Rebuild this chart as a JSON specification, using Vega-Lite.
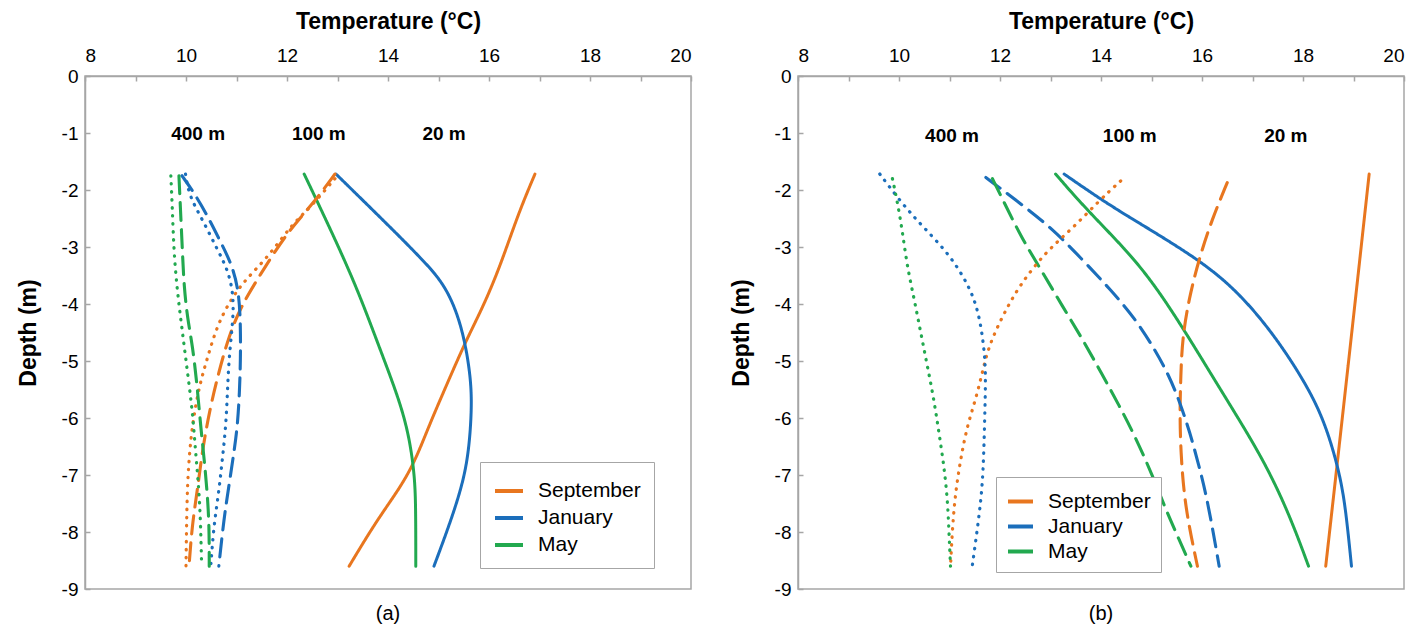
{
  "$schema": "https://vega.github.io/schema/vega-lite/v6.json",
  "padding": {"left": 16, "top": 9, "right": 5, "bottom": 5},
  "spacing": 36,
  "config": {
    "font": "Liberation Sans",
    "view": {"stroke": "#A6A6A6", "strokeWidth": 1.5},
    "axis": {"domainColor": "#A6A6A6", "tickColor": "#A6A6A6", "grid": false, "labelFont": "Liberation Sans", "labelFontSize": 19, "labelColor": "#000000", "titleFont": "Liberation Sans", "titleFontSize": 23, "titleFontWeight": "bold", "titleColor": "#000000", "domainWidth": 1.5, "tickWidth": 1.5},
    "title": {"font": "Liberation Sans", "fontSize": 20, "fontWeight": "normal", "color": "#000000"}
  },
  "datasets": {
    "profiles": [
      {"panel":"a","month":"September","dist":"20 m","temp":16.91,"depth":-1.72},
      {"panel":"a","month":"September","dist":"20 m","temp":16.59,"depth":-2.39},
      {"panel":"a","month":"September","dist":"20 m","temp":16.20,"depth":-3.39},
      {"panel":"a","month":"September","dist":"20 m","temp":15.86,"depth":-4.09},
      {"panel":"a","month":"September","dist":"20 m","temp":15.54,"depth":-4.65},
      {"panel":"a","month":"September","dist":"20 m","temp":15.15,"depth":-5.44},
      {"panel":"a","month":"September","dist":"20 m","temp":14.81,"depth":-6.14},
      {"panel":"a","month":"September","dist":"20 m","temp":14.53,"depth":-6.77},
      {"panel":"a","month":"September","dist":"20 m","temp":14.22,"depth":-7.25},
      {"panel":"a","month":"September","dist":"20 m","temp":13.76,"depth":-7.82},
      {"panel":"a","month":"September","dist":"20 m","temp":13.23,"depth":-8.60},
      {"panel":"a","month":"January","dist":"20 m","temp":12.97,"depth":-1.72},
      {"panel":"a","month":"January","dist":"20 m","temp":14.02,"depth":-2.63},
      {"panel":"a","month":"January","dist":"20 m","temp":14.67,"depth":-3.21},
      {"panel":"a","month":"January","dist":"20 m","temp":15.15,"depth":-3.68},
      {"panel":"a","month":"January","dist":"20 m","temp":15.47,"depth":-4.39},
      {"panel":"a","month":"January","dist":"20 m","temp":15.64,"depth":-5.26},
      {"panel":"a","month":"January","dist":"20 m","temp":15.66,"depth":-5.84},
      {"panel":"a","month":"January","dist":"20 m","temp":15.60,"depth":-6.60},
      {"panel":"a","month":"January","dist":"20 m","temp":15.47,"depth":-7.19},
      {"panel":"a","month":"January","dist":"20 m","temp":15.21,"depth":-7.89},
      {"panel":"a","month":"January","dist":"20 m","temp":14.91,"depth":-8.60},
      {"panel":"a","month":"May","dist":"20 m","temp":12.34,"depth":-1.72},
      {"panel":"a","month":"May","dist":"20 m","temp":12.83,"depth":-2.63},
      {"panel":"a","month":"May","dist":"20 m","temp":13.37,"depth":-3.68},
      {"panel":"a","month":"May","dist":"20 m","temp":13.82,"depth":-4.74},
      {"panel":"a","month":"May","dist":"20 m","temp":14.22,"depth":-5.67},
      {"panel":"a","month":"May","dist":"20 m","temp":14.42,"depth":-6.32},
      {"panel":"a","month":"May","dist":"20 m","temp":14.53,"depth":-7.02},
      {"panel":"a","month":"May","dist":"20 m","temp":14.55,"depth":-7.60},
      {"panel":"a","month":"May","dist":"20 m","temp":14.55,"depth":-8.60},
      {"panel":"a","month":"September","dist":"100 m","temp":12.95,"depth":-1.72},
      {"panel":"a","month":"September","dist":"100 m","temp":12.48,"depth":-2.28},
      {"panel":"a","month":"September","dist":"100 m","temp":12.02,"depth":-2.72},
      {"panel":"a","month":"September","dist":"100 m","temp":11.45,"depth":-3.51},
      {"panel":"a","month":"September","dist":"100 m","temp":11.09,"depth":-4.04},
      {"panel":"a","month":"September","dist":"100 m","temp":10.85,"depth":-4.56},
      {"panel":"a","month":"September","dist":"100 m","temp":10.65,"depth":-5.19},
      {"panel":"a","month":"September","dist":"100 m","temp":10.46,"depth":-5.89},
      {"panel":"a","month":"September","dist":"100 m","temp":10.32,"depth":-6.60},
      {"panel":"a","month":"September","dist":"100 m","temp":10.22,"depth":-7.30},
      {"panel":"a","month":"September","dist":"100 m","temp":10.12,"depth":-7.89},
      {"panel":"a","month":"September","dist":"100 m","temp":10.06,"depth":-8.60},
      {"panel":"a","month":"September","dist":"400 m","temp":12.95,"depth":-1.80},
      {"panel":"a","month":"September","dist":"400 m","temp":12.47,"depth":-2.30},
      {"panel":"a","month":"September","dist":"400 m","temp":12.10,"depth":-2.60},
      {"panel":"a","month":"September","dist":"400 m","temp":11.64,"depth":-3.16},
      {"panel":"a","month":"September","dist":"400 m","temp":11.19,"depth":-3.56},
      {"panel":"a","month":"September","dist":"400 m","temp":10.89,"depth":-3.91},
      {"panel":"a","month":"September","dist":"400 m","temp":10.61,"depth":-4.39},
      {"panel":"a","month":"September","dist":"400 m","temp":10.42,"depth":-4.96},
      {"panel":"a","month":"September","dist":"400 m","temp":10.26,"depth":-5.44},
      {"panel":"a","month":"September","dist":"400 m","temp":10.12,"depth":-6.14},
      {"panel":"a","month":"September","dist":"400 m","temp":10.06,"depth":-6.72},
      {"panel":"a","month":"September","dist":"400 m","temp":10.02,"depth":-7.30},
      {"panel":"a","month":"September","dist":"400 m","temp":10.00,"depth":-8.60},
      {"panel":"a","month":"January","dist":"100 m","temp":9.92,"depth":-1.75},
      {"panel":"a","month":"January","dist":"100 m","temp":10.13,"depth":-2.01},
      {"panel":"a","month":"January","dist":"100 m","temp":10.39,"depth":-2.39},
      {"panel":"a","month":"January","dist":"100 m","temp":10.69,"depth":-2.92},
      {"panel":"a","month":"January","dist":"100 m","temp":10.92,"depth":-3.33},
      {"panel":"a","month":"January","dist":"100 m","temp":11.05,"depth":-3.80},
      {"panel":"a","month":"January","dist":"100 m","temp":11.08,"depth":-4.38},
      {"panel":"a","month":"January","dist":"100 m","temp":11.08,"depth":-4.96},
      {"panel":"a","month":"January","dist":"100 m","temp":11.06,"depth":-5.55},
      {"panel":"a","month":"January","dist":"100 m","temp":11.02,"depth":-6.14},
      {"panel":"a","month":"January","dist":"100 m","temp":10.95,"depth":-6.60},
      {"panel":"a","month":"January","dist":"100 m","temp":10.85,"depth":-7.19},
      {"panel":"a","month":"January","dist":"100 m","temp":10.75,"depth":-7.77},
      {"panel":"a","month":"January","dist":"100 m","temp":10.65,"depth":-8.60},
      {"panel":"a","month":"January","dist":"400 m","temp":9.99,"depth":-1.72},
      {"panel":"a","month":"January","dist":"400 m","temp":10.06,"depth":-2.10},
      {"panel":"a","month":"January","dist":"400 m","temp":10.32,"depth":-2.51},
      {"panel":"a","month":"January","dist":"400 m","temp":10.62,"depth":-3.04},
      {"panel":"a","month":"January","dist":"400 m","temp":10.85,"depth":-3.44},
      {"panel":"a","month":"January","dist":"400 m","temp":10.95,"depth":-3.91},
      {"panel":"a","month":"January","dist":"400 m","temp":10.92,"depth":-4.38},
      {"panel":"a","month":"January","dist":"400 m","temp":10.85,"depth":-4.96},
      {"panel":"a","month":"January","dist":"400 m","temp":10.82,"depth":-5.55},
      {"panel":"a","month":"January","dist":"400 m","temp":10.79,"depth":-6.14},
      {"panel":"a","month":"January","dist":"400 m","temp":10.72,"depth":-6.72},
      {"panel":"a","month":"January","dist":"400 m","temp":10.65,"depth":-7.30},
      {"panel":"a","month":"January","dist":"400 m","temp":10.55,"depth":-7.89},
      {"panel":"a","month":"January","dist":"400 m","temp":10.49,"depth":-8.60},
      {"panel":"a","month":"May","dist":"100 m","temp":9.86,"depth":-1.75},
      {"panel":"a","month":"May","dist":"100 m","temp":9.89,"depth":-2.33},
      {"panel":"a","month":"May","dist":"100 m","temp":9.93,"depth":-3.09},
      {"panel":"a","month":"May","dist":"100 m","temp":9.96,"depth":-3.68},
      {"panel":"a","month":"May","dist":"100 m","temp":10.03,"depth":-4.26},
      {"panel":"a","month":"May","dist":"100 m","temp":10.13,"depth":-4.73},
      {"panel":"a","month":"May","dist":"100 m","temp":10.22,"depth":-5.43},
      {"panel":"a","month":"May","dist":"100 m","temp":10.29,"depth":-6.14},
      {"panel":"a","month":"May","dist":"100 m","temp":10.36,"depth":-6.72},
      {"panel":"a","month":"May","dist":"100 m","temp":10.42,"depth":-7.30},
      {"panel":"a","month":"May","dist":"100 m","temp":10.46,"depth":-7.89},
      {"panel":"a","month":"May","dist":"100 m","temp":10.46,"depth":-8.60},
      {"panel":"a","month":"May","dist":"400 m","temp":9.70,"depth":-1.75},
      {"panel":"a","month":"May","dist":"400 m","temp":9.73,"depth":-2.33},
      {"panel":"a","month":"May","dist":"400 m","temp":9.76,"depth":-3.09},
      {"panel":"a","month":"May","dist":"400 m","temp":9.83,"depth":-3.80},
      {"panel":"a","month":"May","dist":"400 m","temp":9.93,"depth":-4.50},
      {"panel":"a","month":"May","dist":"400 m","temp":10.03,"depth":-5.20},
      {"panel":"a","month":"May","dist":"400 m","temp":10.13,"depth":-5.90},
      {"panel":"a","month":"May","dist":"400 m","temp":10.19,"depth":-6.60},
      {"panel":"a","month":"May","dist":"400 m","temp":10.26,"depth":-7.30},
      {"panel":"a","month":"May","dist":"400 m","temp":10.29,"depth":-7.89},
      {"panel":"a","month":"May","dist":"400 m","temp":10.31,"depth":-8.60},

      {"panel":"b","month":"September","dist":"20 m","temp":19.31,"depth":-1.72},
      {"panel":"b","month":"September","dist":"20 m","temp":18.88,"depth":-5.20},
      {"panel":"b","month":"September","dist":"20 m","temp":18.45,"depth":-8.60},
      {"panel":"b","month":"January","dist":"20 m","temp":13.27,"depth":-1.72},
      {"panel":"b","month":"January","dist":"20 m","temp":13.89,"depth":-2.10},
      {"panel":"b","month":"January","dist":"20 m","temp":14.45,"depth":-2.42},
      {"panel":"b","month":"January","dist":"20 m","temp":15.94,"depth":-3.21},
      {"panel":"b","month":"January","dist":"20 m","temp":16.73,"depth":-3.80},
      {"panel":"b","month":"January","dist":"20 m","temp":17.39,"depth":-4.50},
      {"panel":"b","month":"January","dist":"20 m","temp":17.92,"depth":-5.20},
      {"panel":"b","month":"January","dist":"20 m","temp":18.32,"depth":-5.84},
      {"panel":"b","month":"January","dist":"20 m","temp":18.58,"depth":-6.49},
      {"panel":"b","month":"January","dist":"20 m","temp":18.78,"depth":-7.19},
      {"panel":"b","month":"January","dist":"20 m","temp":18.88,"depth":-7.89},
      {"panel":"b","month":"January","dist":"20 m","temp":18.96,"depth":-8.60},
      {"panel":"b","month":"May","dist":"20 m","temp":13.10,"depth":-1.72},
      {"panel":"b","month":"May","dist":"20 m","temp":13.70,"depth":-2.33},
      {"panel":"b","month":"May","dist":"20 m","temp":14.49,"depth":-3.04},
      {"panel":"b","month":"May","dist":"20 m","temp":15.08,"depth":-3.68},
      {"panel":"b","month":"May","dist":"20 m","temp":15.72,"depth":-4.56},
      {"panel":"b","month":"May","dist":"20 m","temp":16.20,"depth":-5.26},
      {"panel":"b","month":"May","dist":"20 m","temp":16.73,"depth":-6.02},
      {"panel":"b","month":"May","dist":"20 m","temp":17.20,"depth":-6.72},
      {"panel":"b","month":"May","dist":"20 m","temp":17.59,"depth":-7.42},
      {"panel":"b","month":"May","dist":"20 m","temp":17.89,"depth":-8.07},
      {"panel":"b","month":"May","dist":"20 m","temp":18.11,"depth":-8.60},
      {"panel":"b","month":"September","dist":"100 m","temp":16.50,"depth":-1.87},
      {"panel":"b","month":"September","dist":"100 m","temp":16.20,"depth":-2.51},
      {"panel":"b","month":"September","dist":"100 m","temp":15.94,"depth":-3.21},
      {"panel":"b","month":"September","dist":"100 m","temp":15.74,"depth":-3.91},
      {"panel":"b","month":"September","dist":"100 m","temp":15.61,"depth":-4.61},
      {"panel":"b","month":"September","dist":"100 m","temp":15.58,"depth":-5.26},
      {"panel":"b","month":"September","dist":"100 m","temp":15.56,"depth":-5.90},
      {"panel":"b","month":"September","dist":"100 m","temp":15.58,"depth":-6.60},
      {"panel":"b","month":"September","dist":"100 m","temp":15.64,"depth":-7.30},
      {"panel":"b","month":"September","dist":"100 m","temp":15.74,"depth":-7.89},
      {"panel":"b","month":"September","dist":"100 m","temp":15.91,"depth":-8.60},
      {"panel":"b","month":"January","dist":"100 m","temp":11.72,"depth":-1.78},
      {"panel":"b","month":"January","dist":"100 m","temp":12.38,"depth":-2.22},
      {"panel":"b","month":"January","dist":"100 m","temp":13.04,"depth":-2.68},
      {"panel":"b","month":"January","dist":"100 m","temp":13.62,"depth":-3.21},
      {"panel":"b","month":"January","dist":"100 m","temp":14.18,"depth":-3.74},
      {"panel":"b","month":"January","dist":"100 m","temp":14.68,"depth":-4.26},
      {"panel":"b","month":"January","dist":"100 m","temp":15.06,"depth":-4.79},
      {"panel":"b","month":"January","dist":"100 m","temp":15.35,"depth":-5.26},
      {"panel":"b","month":"January","dist":"100 m","temp":15.56,"depth":-5.72},
      {"panel":"b","month":"January","dist":"100 m","temp":15.76,"depth":-6.25},
      {"panel":"b","month":"January","dist":"100 m","temp":15.94,"depth":-6.84},
      {"panel":"b","month":"January","dist":"100 m","temp":16.07,"depth":-7.30},
      {"panel":"b","month":"January","dist":"100 m","temp":16.20,"depth":-7.89},
      {"panel":"b","month":"January","dist":"100 m","temp":16.34,"depth":-8.60},
      {"panel":"b","month":"May","dist":"100 m","temp":11.85,"depth":-1.80},
      {"panel":"b","month":"May","dist":"100 m","temp":12.11,"depth":-2.27},
      {"panel":"b","month":"May","dist":"100 m","temp":12.44,"depth":-2.86},
      {"panel":"b","month":"May","dist":"100 m","temp":12.84,"depth":-3.44},
      {"panel":"b","month":"May","dist":"100 m","temp":13.23,"depth":-4.03},
      {"panel":"b","month":"May","dist":"100 m","temp":13.63,"depth":-4.61},
      {"panel":"b","month":"May","dist":"100 m","temp":14.00,"depth":-5.20},
      {"panel":"b","month":"May","dist":"100 m","temp":14.36,"depth":-5.78},
      {"panel":"b","month":"May","dist":"100 m","temp":14.69,"depth":-6.35},
      {"panel":"b","month":"May","dist":"100 m","temp":15.02,"depth":-7.01},
      {"panel":"b","month":"May","dist":"100 m","temp":15.28,"depth":-7.60},
      {"panel":"b","month":"May","dist":"100 m","temp":15.54,"depth":-8.12},
      {"panel":"b","month":"May","dist":"100 m","temp":15.78,"depth":-8.60},
      {"panel":"b","month":"September","dist":"400 m","temp":14.39,"depth":-1.84},
      {"panel":"b","month":"September","dist":"400 m","temp":13.96,"depth":-2.19},
      {"panel":"b","month":"September","dist":"400 m","temp":13.43,"depth":-2.68},
      {"panel":"b","month":"September","dist":"400 m","temp":12.90,"depth":-3.09},
      {"panel":"b","month":"September","dist":"400 m","temp":12.38,"depth":-3.68},
      {"panel":"b","month":"September","dist":"400 m","temp":12.05,"depth":-4.21},
      {"panel":"b","month":"September","dist":"400 m","temp":11.78,"depth":-4.73},
      {"panel":"b","month":"September","dist":"400 m","temp":11.65,"depth":-5.20},
      {"panel":"b","month":"September","dist":"400 m","temp":11.52,"depth":-5.67},
      {"panel":"b","month":"September","dist":"400 m","temp":11.35,"depth":-6.14},
      {"panel":"b","month":"September","dist":"400 m","temp":11.22,"depth":-6.72},
      {"panel":"b","month":"September","dist":"400 m","temp":11.12,"depth":-7.30},
      {"panel":"b","month":"September","dist":"400 m","temp":11.06,"depth":-7.89},
      {"panel":"b","month":"September","dist":"400 m","temp":11.02,"depth":-8.60},
      {"panel":"b","month":"January","dist":"400 m","temp":9.62,"depth":-1.72},
      {"panel":"b","month":"January","dist":"400 m","temp":10.07,"depth":-2.25},
      {"panel":"b","month":"January","dist":"400 m","temp":10.46,"depth":-2.63},
      {"panel":"b","month":"January","dist":"400 m","temp":10.99,"depth":-3.12},
      {"panel":"b","month":"January","dist":"400 m","temp":11.39,"depth":-3.68},
      {"panel":"b","month":"January","dist":"400 m","temp":11.58,"depth":-4.15},
      {"panel":"b","month":"January","dist":"400 m","temp":11.68,"depth":-4.73},
      {"panel":"b","month":"January","dist":"400 m","temp":11.72,"depth":-5.20},
      {"panel":"b","month":"January","dist":"400 m","temp":11.70,"depth":-5.90},
      {"panel":"b","month":"January","dist":"400 m","temp":11.68,"depth":-6.60},
      {"panel":"b","month":"January","dist":"400 m","temp":11.65,"depth":-7.19},
      {"panel":"b","month":"January","dist":"400 m","temp":11.58,"depth":-7.77},
      {"panel":"b","month":"January","dist":"400 m","temp":11.45,"depth":-8.60},
      {"panel":"b","month":"May","dist":"400 m","temp":9.87,"depth":-1.80},
      {"panel":"b","month":"May","dist":"400 m","temp":9.97,"depth":-2.22},
      {"panel":"b","month":"May","dist":"400 m","temp":10.07,"depth":-2.74},
      {"panel":"b","month":"May","dist":"400 m","temp":10.16,"depth":-3.33},
      {"panel":"b","month":"May","dist":"400 m","temp":10.30,"depth":-3.91},
      {"panel":"b","month":"May","dist":"400 m","temp":10.43,"depth":-4.50},
      {"panel":"b","month":"May","dist":"400 m","temp":10.56,"depth":-5.08},
      {"panel":"b","month":"May","dist":"400 m","temp":10.69,"depth":-5.67},
      {"panel":"b","month":"May","dist":"400 m","temp":10.79,"depth":-6.25},
      {"panel":"b","month":"May","dist":"400 m","temp":10.89,"depth":-6.84},
      {"panel":"b","month":"May","dist":"400 m","temp":10.96,"depth":-7.42},
      {"panel":"b","month":"May","dist":"400 m","temp":10.99,"depth":-8.01},
      {"panel":"b","month":"May","dist":"400 m","temp":11.02,"depth":-8.60}
    ],
    "labels": [
      {"panel":"a","text":"400 m","temp":10.24,"depth":-1.02},
      {"panel":"a","text":"100 m","temp":12.63,"depth":-1.02},
      {"panel":"a","text":"20 m","temp":15.11,"depth":-1.02},
      {"panel":"b","text":"400 m","temp":11.05,"depth":-1.05},
      {"panel":"b","text":"100 m","temp":14.57,"depth":-1.05},
      {"panel":"b","text":"20 m","temp":17.66,"depth":-1.05}
    ]
  },
  "resolve": {"legend": {"color": "independent"}},
  "hconcat": [
    {
      "width": 606,
      "height": 513,
      "title": {"text": "(a)", "orient": "bottom", "anchor": "middle", "offset": 5},
      "layer": [
        {
          "data": {"name": "profiles"},
          "transform": [{"filter": "datum.panel === 'a'"}],
          "mark": {"type": "line", "strokeCap": "round", "interpolate": "basis"},
          "encoding": {
            "x": {"field": "temp", "type": "quantitative", "scale": {"domain": [8, 20], "nice": false, "zero": false},
                  "axis": {"orient": "top", "title": "Temperature (°C)", "values": [8,9,10,11,12,13,14,15,16,17,18,19,20], "labelExpr": "datum.value % 2 == 0 ? '' + datum.value : ''", "tickSize": -5, "labelPadding": 16, "titlePadding": 13}},
            "y": {"field": "depth", "type": "quantitative", "scale": {"domain": [-9, 0], "nice": false, "zero": false},
                  "axis": {"title": "Depth (m)", "values": [0,-1,-2,-3,-4,-5,-6,-7,-8,-9], "labelExpr": "'' + datum.value", "tickSize": -5, "labelPadding": 12, "titlePadding": 21}},
            "color": {"field": "month", "type": "nominal", "scale": {"domain": ["September", "January", "May"], "range": ["#E8761F", "#1B6EBB", "#22A94F"]},
                      "legend": {"orient": "none", "legendX": 395, "legendY": 386, "title": null, "strokeColor": "#A6A6A6", "fillColor": "#FFFFFF", "padding": 13, "labelFontSize": 21, "labelFont": "Liberation Sans", "symbolSize": 784, "symbolStrokeWidth": 4, "rowPadding": 1, "labelOffset": 13}},
            "strokeDash": {"field": "dist", "type": "nominal", "scale": {"domain": ["20 m", "100 m", "400 m"], "range": [[1, 0], [18, 9], [0.5, 7.5]]}, "legend": null},
            "strokeWidth": {"field": "dist", "type": "nominal", "scale": {"domain": ["20 m", "100 m", "400 m"], "range": [3, 3.2, 4.2]}, "legend": null},
            "detail": {"field": "dist"},
            "order": {"field": "depth", "sort": "descending"}
          }
        },
        {
          "data": {"name": "labels"},
          "transform": [{"filter": "datum.panel === 'a'"}],
          "mark": {"type": "text", "fontWeight": "bold", "fontSize": 19, "font": "Liberation Sans"},
          "encoding": {
            "x": {"field": "temp", "type": "quantitative"},
            "y": {"field": "depth", "type": "quantitative"},
            "text": {"field": "text"}
          }
        }
      ]
    },
    {
      "width": 606,
      "height": 513,
      "title": {"text": "(b)", "orient": "bottom", "anchor": "middle", "offset": 5},
      "layer": [
        {
          "data": {"name": "profiles"},
          "transform": [{"filter": "datum.panel === 'b'"}],
          "mark": {"type": "line", "strokeCap": "round", "interpolate": "basis"},
          "encoding": {
            "x": {"field": "temp", "type": "quantitative", "scale": {"domain": [8, 20], "nice": false, "zero": false},
                  "axis": {"orient": "top", "title": "Temperature (°C)", "values": [8,9,10,11,12,13,14,15,16,17,18,19,20], "labelExpr": "datum.value % 2 == 0 ? '' + datum.value : ''", "tickSize": -5, "labelPadding": 16, "titlePadding": 13}},
            "y": {"field": "depth", "type": "quantitative", "scale": {"domain": [-9, 0], "nice": false, "zero": false},
                  "axis": {"title": "Depth (m)", "values": [0,-1,-2,-3,-4,-5,-6,-7,-8,-9], "labelExpr": "'' + datum.value", "tickSize": -5, "labelPadding": 12, "titlePadding": 21}},
            "color": {"field": "month", "type": "nominal", "scale": {"domain": ["September", "January", "May"], "range": ["#E8761F", "#1B6EBB", "#22A94F"]},
                      "legend": {"orient": "none", "legendX": 198, "legendY": 401, "title": null, "strokeColor": "#A6A6A6", "fillColor": "#FFFFFF", "padding": 10, "labelFontSize": 21, "labelFont": "Liberation Sans", "symbolSize": 625, "symbolStrokeWidth": 4, "rowPadding": 0, "labelOffset": 13}},
            "strokeDash": {"field": "dist", "type": "nominal", "scale": {"domain": ["20 m", "100 m", "400 m"], "range": [[1, 0], [18, 9], [0.5, 7.5]]}, "legend": null},
            "strokeWidth": {"field": "dist", "type": "nominal", "scale": {"domain": ["20 m", "100 m", "400 m"], "range": [3, 3.2, 4.2]}, "legend": null},
            "detail": {"field": "dist"},
            "order": {"field": "depth", "sort": "descending"}
          }
        },
        {
          "data": {"name": "labels"},
          "transform": [{"filter": "datum.panel === 'b'"}],
          "mark": {"type": "text", "fontWeight": "bold", "fontSize": 19, "font": "Liberation Sans"},
          "encoding": {
            "x": {"field": "temp", "type": "quantitative"},
            "y": {"field": "depth", "type": "quantitative"},
            "text": {"field": "text"}
          }
        }
      ]
    }
  ]
}
